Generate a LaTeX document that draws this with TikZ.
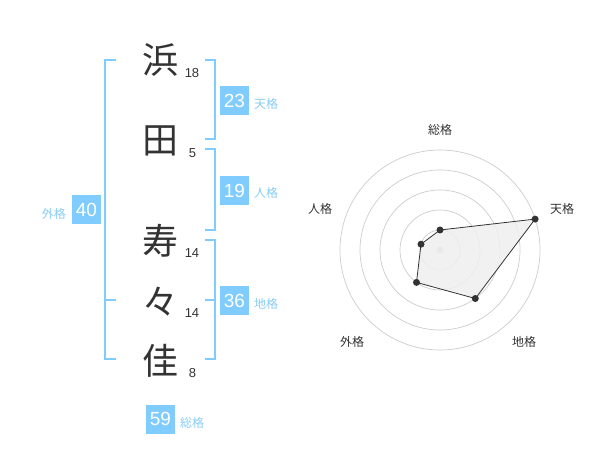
\documentclass[tikz,border=0pt]{standalone}
\usepackage{fontspec}
\setmainfont{Liberation Sans}
\newfontfamily\jp{Noto Sans CJK JP}
\definecolor{brk}{HTML}{80CCFF}
\definecolor{lbl}{HTML}{88CCF5}
\definecolor{ink}{HTML}{333333}
\definecolor{grid}{HTML}{CCCCCC}
\definecolor{fillg}{HTML}{EFEFEF}
\begin{document}
\begin{tikzpicture}[x=1pt,y=-1pt,
  kanji/.style={font=\jp\fontsize{36}{36}\selectfont,text=ink,inner sep=0pt},
  stroke/.style={font=\fontsize{13}{13}\selectfont,text=ink,inner sep=0pt},
  numbox/.style={fill=brk,text=white,font=\fontsize{19}{19}\selectfont,minimum width=29pt,minimum height=29pt,inner sep=0pt},
  kaku/.style={font=\jp\fontsize{12}{12}\selectfont,text=lbl,inner sep=0pt},
  bracket/.style={draw=brk,line width=2pt},
  rlabel/.style={font=\jp\fontsize{12}{12}\selectfont,text=ink,inner sep=0pt},
  ring/.style={draw=grid,line width=0.7pt},
  dot/.style={circle,fill=ink,minimum size=7pt,inner sep=0pt}]
\useasboundingbox (0,0) rectangle (600,470);
% kanji
\node[kanji] (k1) at (160,60) {浜};
\node[kanji] (k2) at (160,141) {田};
\node[kanji] (k3) at (160,241) {寿};
\node[kanji] (k4) at (160,302) {々};
\node[kanji] (k5) at (160,361) {佳};
% stroke counts
\node[stroke] (s1) at (192,73) {18};
\node[stroke] (s2) at (192.5,153) {5};
\node[stroke] (s3) at (192,253) {14};
\node[stroke] (s4) at (192,313) {14};
\node[stroke] (s5) at (192.5,373) {8};
% brackets
\draw[bracket] (116,60) -- (105,60) -- (105,359) -- (116,359);
\draw[bracket] (105,300) -- (116,300);
\draw[bracket] (205,60) -- (214.5,60) -- (214.5,139.5) -- (205,139.5);
\draw[bracket] (205,149.5) -- (214.5,149.5) -- (214.5,230) -- (205,230);
\draw[bracket] (205,240) -- (214.5,240) -- (214.5,359) -- (205,359);
\draw[bracket] (205,300) -- (214.5,300);
% number boxes
\node[numbox] (b1) at (234.5,100.5) {23};
\node[kaku, anchor=west] (l1) at (254,104) {天格};
\node[numbox] (b2) at (234.5,190.5) {19};
\node[kaku, anchor=west] (l2) at (254,193) {人格};
\node[numbox] (b3) at (86.5,210) {40};
\node[kaku, anchor=east] (l3) at (66,213.5) {外格};
\node[numbox] (b4) at (234.5,300.5) {36};
\node[kaku, anchor=west] (l4) at (254,304) {地格};
\node[numbox] (b5) at (160.5,419) {59};
\node[kaku, anchor=west] (l5) at (180,422.5) {総格};
% radar
\coordinate (c) at (440,250);
\foreach \r in {20,40,60,80,100} \draw[ring] (c) circle[radius=\r];
\fill[grid] (c) circle[radius=3.5];
\coordinate (pTen) at (535.1,219.1);
\coordinate (pSou) at (440,230);
\coordinate (pJin) at (421,244.2);
\coordinate (pGai) at (416.5,282.4);
\coordinate (pChi) at (475.3,298.5);
\draw[ink,fill=fillg,fill opacity=0.85,line width=0.8pt] (pTen) -- (pChi) -- (pGai) -- (pJin) -- (pSou) -- cycle;
\foreach \p in {pTen,pSou,pJin,pGai,pChi} \node[dot] at (\p) {};
\node[rlabel] (r1) at (440,130) {総格};
\node[rlabel] (r2) at (562,208.5) {天格};
\node[rlabel] (r3) at (320,208.5) {人格};
\node[rlabel] (r4) at (352,342) {外格};
\node[rlabel] (r5) at (524,342) {地格};
\end{tikzpicture}
\end{document}
